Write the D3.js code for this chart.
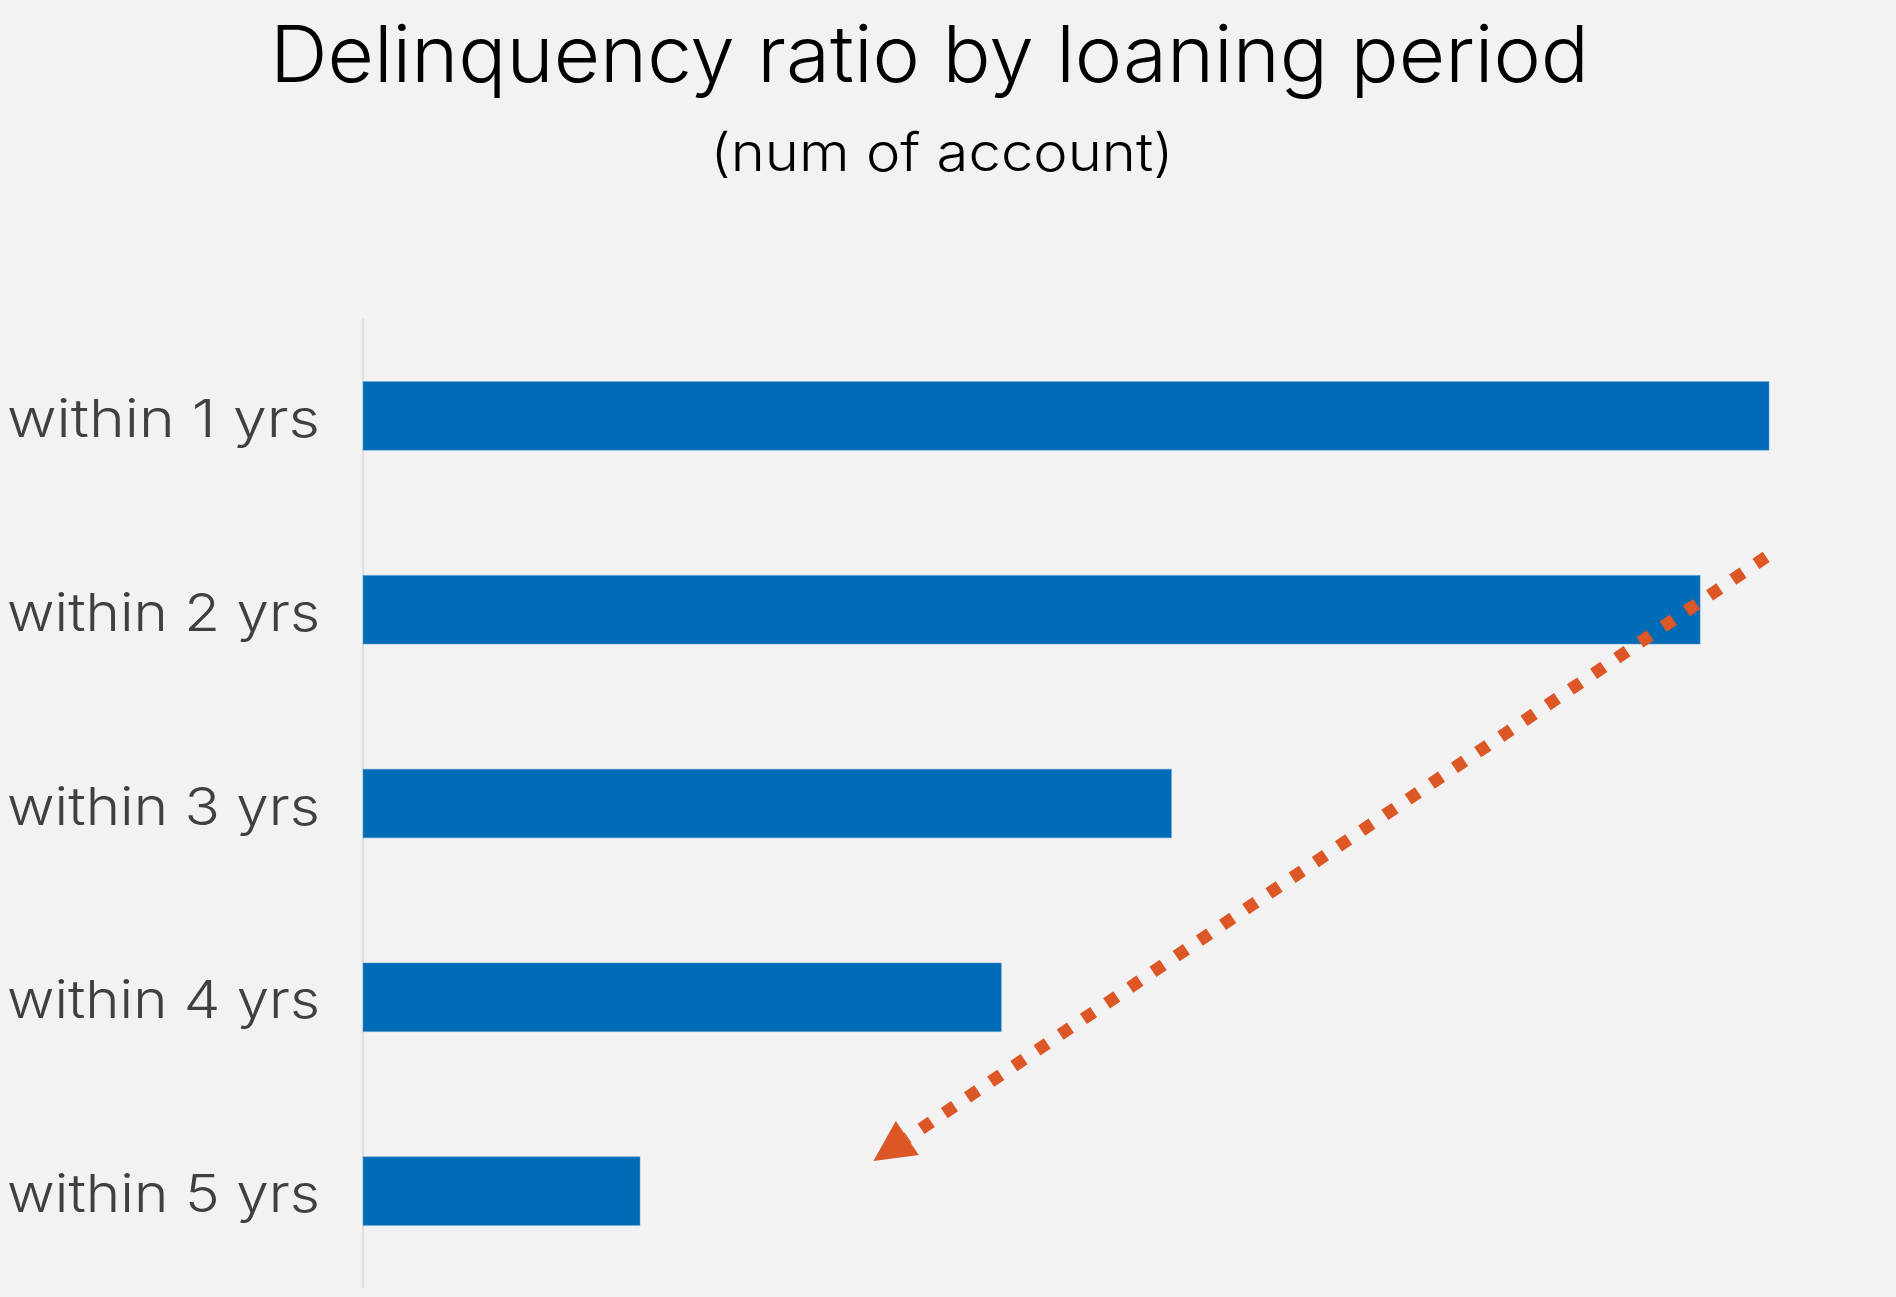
<!DOCTYPE html>
<html>
<head>
<meta charset="utf-8">
<script src="https://cdn.jsdelivr.net/npm/d3@7"></script>
<style>
  html, body { margin: 0; padding: 0; background: #f2f2f2; }
  svg { display: block; }
  text { font-family: Inter, "Noto Sans", sans-serif; }
</style>
</head>
<body>
<svg id="chart" width="1896" height="1297"></svg>
<script>
// Delinquency ratio per loaning period (relative index, longest period group = 10)
const categories = ["within 1 yrs", "within 2 yrs", "within 3 yrs", "within 4 yrs", "within 5 yrs"];
const values = [10.0, 9.51, 5.75, 4.54, 1.97];
const titleText = "Delinquency ratio by loaning period";
const subtitleText = "(num of account)";
// Trend arrow in data space: value along x, category position (0 = first row) along y
const trendStart = { value: 9.98, pos: 0.728 };
const trendEnd = { value: 3.63, pos: 3.845 };

const W = 1896, H = 1297;
const svg = d3.select("#chart");
svg.append("rect").attr("width", W).attr("height", H).attr("fill", "#f2f2f2");

const plot = { left: 363, right: 1769, top: 319, bottom: 1288 };

const x = d3.scaleLinear().domain([0, 10]).range([plot.left, plot.right]);
const pad = 0.646;
const y = d3.scaleBand().domain(categories)
  .range([plot.top, plot.bottom])
  .paddingInner(pad).paddingOuter(pad / 2);
const yPos = d3.scaleLinear().domain([0, categories.length - 1])
  .range([y(categories[0]) + y.bandwidth() / 2, y(categories[categories.length - 1]) + y.bandwidth() / 2]);

// Titles
svg.append("text")
  .attr("x", 929.5).attr("y", 82)
  .attr("text-anchor", "middle")
  .attr("font-size", 78)
  .attr("font-weight", 300)
  .attr("fill", "#000")
  .attr("textLength", 1319).attr("lengthAdjust", "spacingAndGlyphs")
  .text(titleText);
svg.append("text")
  .attr("x", 942).attr("y", 171)
  .attr("text-anchor", "middle")
  .attr("font-size", 52)
  .attr("font-weight", 300)
  .attr("fill", "#000")
  .attr("textLength", 463).attr("lengthAdjust", "spacingAndGlyphs")
  .text(subtitleText);

// Category axis line
svg.append("line")
  .attr("x1", x(0)).attr("x2", x(0))
  .attr("y1", plot.top).attr("y2", plot.bottom)
  .attr("stroke", "#d9d9d9").attr("stroke-width", 1.5);

// Category labels
svg.append("g").selectAll("text")
  .data(categories)
  .join("text")
  .attr("x", 320)
  .attr("y", d => y(d) + y.bandwidth() / 2 + 21)
  .attr("text-anchor", "end")
  .attr("font-size", 52)
  .attr("font-weight", 300)
  .attr("fill", "#404040")
  .attr("textLength", 313).attr("lengthAdjust", "spacingAndGlyphs")
  .text(d => d);

// Bars
svg.append("g").selectAll("rect")
  .data(values)
  .join("rect")
  .attr("x", x(0))
  .attr("y", (d, i) => y(categories[i]))
  .attr("width", d => x(d) - x(0))
  .attr("height", y.bandwidth())
  .attr("fill", "#006bb6")
  .attr("stroke", "#5b9bd5")
  .attr("stroke-opacity", 0.5)
  .attr("stroke-width", 1);

// Dotted trend arrow
const sx = x(trendStart.value), sy = yPos(trendStart.pos);
const tx = x(trendEnd.value), ty = yPos(trendEnd.pos);
const dx = tx - sx, dy = ty - sy, len = Math.hypot(dx, dy);
const ux = dx / len, uy = dy / len;
const headLen = 41, headHalf = 20.5;
const bx = tx - ux * headLen, by = ty - uy * headLen;

svg.append("line")
  .attr("x1", sx).attr("y1", sy)
  .attr("x2", bx).attr("y2", by)
  .attr("stroke", "#dc5626")
  .attr("stroke-width", 12.4)
  .attr("stroke-dasharray", "12.4,15.6");

svg.append("path")
  .attr("d", d3.line()([
    [tx, ty],
    [bx - uy * headHalf, by + ux * headHalf],
    [bx + uy * headHalf, by - ux * headHalf]
  ]) + "Z")
  .attr("fill", "#dc5626");
</script>
</body>
</html>
